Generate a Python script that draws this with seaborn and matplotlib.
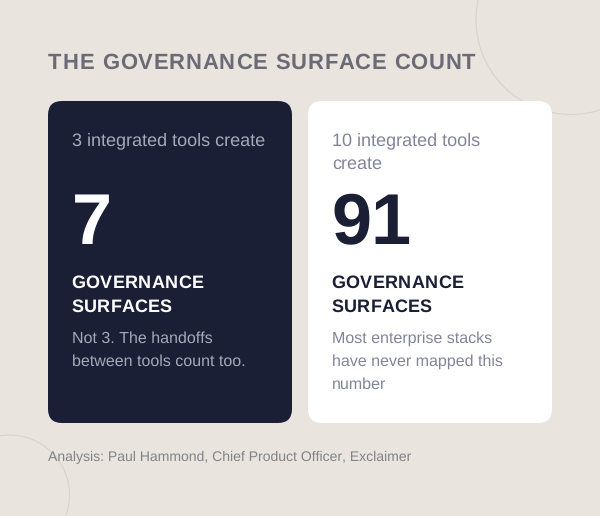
import matplotlib
matplotlib.use("Agg")
import matplotlib.pyplot as plt
from matplotlib.patches import Circle, FancyBboxPatch
from matplotlib.text import Text
import seaborn as sns

# card contents
title = "THE GOVERNANCE SURFACE COUNT"
intro_text = [["3 integrated tools create"], ["10 integrated tools", "create"]]
counts = ["7", "91"]
label_text = [["GOVERNANCE", "SURFACES"], ["GOVERNANCE", "SURFACES"]]
note_text = [["Not 3. The handoffs", "between tools count too."],
             ["Most enterprise stacks", "have never mapped this", "number"]]
source = "Analysis: Paul Hammond, Chief Product Officer, Exclaimer"

BG = "#e9e4de"
NAVY = "#1a1f36"
PX = 0.72  # css px to points at dpi 100


class SpacedText(Text):
    # one text object, drawn with css style letter spacing (in px)
    def __init__(self, *args, spacing=0, **kwargs):
        super().__init__(*args, **kwargs)
        self.spacing = spacing

    def draw(self, renderer):
        x, y = self.get_transform().transform(self.get_position())
        y = renderer.height - y
        gc = renderer.new_gc()
        gc.set_foreground(self.get_color())
        s = self.get_text()
        prop = self.get_fontproperties()
        for i, ch in enumerate(s):
            w = renderer.get_text_width_height_descent(s[:i], prop, False)[0] if i else 0
            renderer.draw_text(gc, x + w + i * self.spacing, y, ch, prop, 0)
        gc.restore()


sns.set_theme(style="white")
plt.rcParams["font.family"] = ["Liberation Sans", "DejaVu Sans"]
plt.rcParams["text.hinting"] = "none"
plt.rcParams["text.hinting_factor"] = 1

fig = plt.figure(figsize=(6, 5.16), dpi=100, facecolor=BG)
ax = fig.add_axes([0, 0, 1, 1])
ax.set_xlim(0, 600)
ax.set_ylim(516, 0)
ax.axis("off")

# background rings
ax.add_patch(Circle((571, 19.5), 95, fill=False, ec="#d8d3d0", lw=0.8))
ax.add_patch(Circle((9.5, 495), 60, fill=False, ec="#d8d3d0", lw=0.8))

ax.add_artist(SpacedText(48, 69, title, spacing=0.88, fontsize=22 * PX, fontweight="bold",
                         color="#6b6b76", va="baseline", transform=ax.transData))

# the two cards
for i, left in enumerate([48, 308]):
    dark = i == 0
    ink = "white" if dark else NAVY
    grey = "#a6a9b6" if dark else "#82859a"
    ax.add_patch(FancyBboxPatch((left + 14, 115), 216, 294,
                                boxstyle="round,pad=14,rounding_size=14", lw=0,
                                fc=NAVY if dark else "white"))
    x = left + 24
    for n, line in enumerate(intro_text[i]):
        ax.text(x, 145.5 + n * 23, line, fontsize=18 * PX, color=grey, va="baseline")
    ax.text(x, 243.5, counts[i], fontsize=72 * PX, fontweight="bold", color=ink, va="baseline")
    for n, line in enumerate(label_text[i]):
        ax.add_artist(SpacedText(x - 0.6, 288 + n * 24, line, spacing=0.36, fontsize=18 * PX,
                                 fontweight="bold", color=ink, va="baseline",
                                 transform=ax.transData))
    for n, line in enumerate(note_text[i]):
        ax.text(x, 343 + n * 22.7, line, fontsize=16 * PX, color=grey, va="baseline")

ax.text(48, 461, source, fontsize=14 * PX, color="#82828a", va="baseline")

fig.savefig("out.png", dpi=100, facecolor=BG)
